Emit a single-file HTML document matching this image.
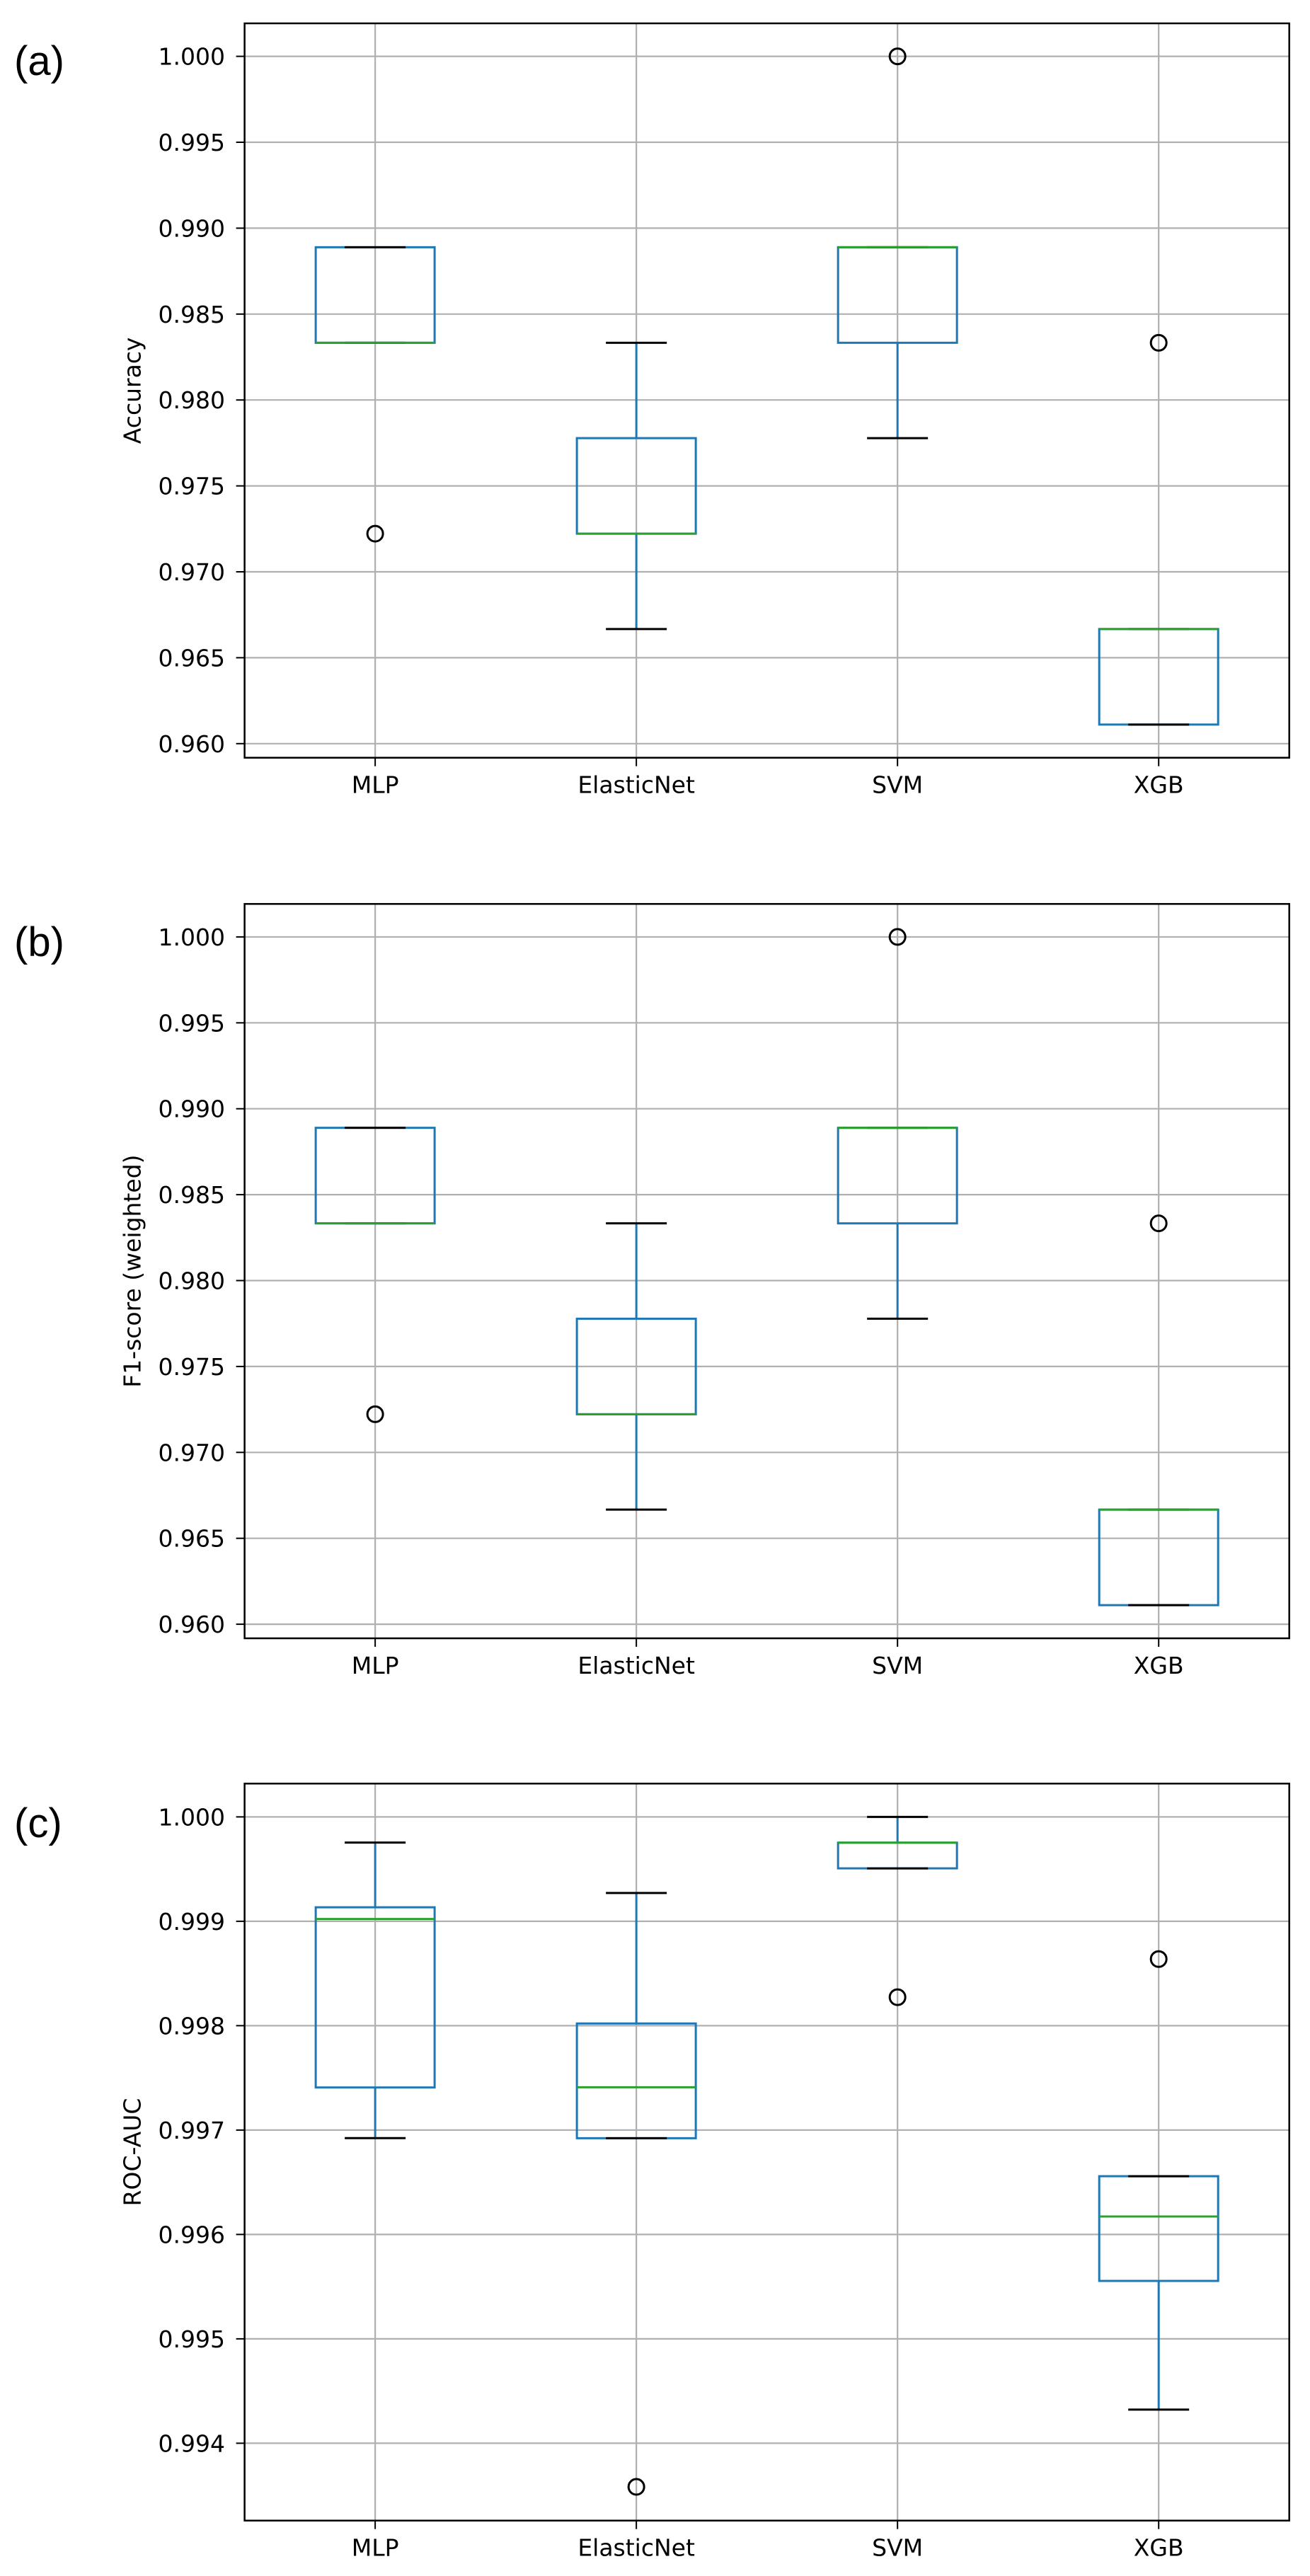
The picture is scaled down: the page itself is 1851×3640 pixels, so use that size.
<!DOCTYPE html>
<html><head><meta charset="utf-8">
<style>
html,body{margin:0;padding:0;background:#fff;}
svg{display:block;}
text{font-family:"DejaVu Sans","Liberation Sans",sans-serif;fill:#000;}
.plabel{font-family:"Liberation Sans",sans-serif;font-size:58px;}
</style></head>
<body>
<svg id="chart" width="1851" height="3640" viewBox="0 0 1851 3640" xmlns="http://www.w3.org/2000/svg"></svg>
<script>
const categories = ["MLP", "ElasticNet", "SVM", "XGB"];
// panel a: Accuracy [whislo, q1, median, q3, whishi]
const accStats = [
  [0.98333, 0.98333, 0.98333, 0.98889, 0.98889],
  [0.96667, 0.97222, 0.97222, 0.97778, 0.98333],
  [0.97778, 0.98333, 0.98889, 0.98889, 0.98889],
  [0.96111, 0.96111, 0.96667, 0.96667, 0.96667]
];
const accOutliers = [[0.97222], [], [1.0], [0.98333]];
const accTicks = ["0.960", "0.965", "0.970", "0.975", "0.980", "0.985", "0.990", "0.995", "1.000"];
// panel b: F1 weighted
const f1Stats = [
  [0.98333, 0.98333, 0.98333, 0.98889, 0.98889],
  [0.96667, 0.97222, 0.97222, 0.97778, 0.98333],
  [0.97778, 0.98333, 0.98889, 0.98889, 0.98889],
  [0.96111, 0.96111, 0.96667, 0.96667, 0.96667]
];
const f1Outliers = [[0.97222], [], [1.0], [0.98333]];
const f1Ticks = ["0.960", "0.965", "0.970", "0.975", "0.980", "0.985", "0.990", "0.995", "1.000"];
// panel c: ROC-AUC
const aucStats = [
  [0.996923, 0.997408, 0.999022, 0.999134, 0.999754],
  [0.996922, 0.996922, 0.997410, 0.998021, 0.999271],
  [0.999507, 0.999507, 0.999753, 0.999753, 1.000000],
  [0.994322, 0.995555, 0.996172, 0.996558, 0.996558]
];
const aucOutliers = [[], [0.993582], [0.998273], [0.998638]];
const aucTicks = ["0.994", "0.995", "0.996", "0.997", "0.998", "0.999", "1.000"];

const NS = "http://www.w3.org/2000/svg";
const svg = document.getElementById("chart");
function mk(tag, attrs, parent) {
  const e = document.createElementNS(NS, tag);
  for (const k in attrs) e.setAttribute(k, attrs[k]);
  (parent || svg).appendChild(e);
  return e;
}
const AX_L = 345.6, AX_R = 1821.7;
const xScale = i => AX_L + (i + 0.5) / 4 * (AX_R - AX_L);

const panels = [
  {key: "a", label: "(a)", ylabel: "Accuracy", stats: accStats, outl: accOutliers, ticks: accTicks,
   top: 33, bottom: 1070.7, ymin: 0.95918, ymax: 1.00192, plY: 106},
  {key: "b", label: "(b)", ylabel: "F1-score (weighted)", stats: f1Stats, outl: f1Outliers, ticks: f1Ticks,
   top: 1277.3, bottom: 2315, ymin: 0.95918, ymax: 1.00192, plY: 1351},
  {key: "c", label: "(c)", ylabel: "ROC-AUC", stats: aucStats, outl: aucOutliers, ticks: aucTicks,
   top: 2520.3, bottom: 3561.7, ymin: 0.993259, ymax: 1.000319, plY: 2596}
];

panels.forEach(p => {
  const g = mk("g", {});
  
  
  const yS = v => p.bottom - (v - p.ymin) / (p.ymax - p.ymin) * (p.bottom - p.top);

  const pl = mk("text", {x: 20, y: p.plY, "class": "plabel"}, g);
  pl.textContent = p.label;
  
  

  p.ticks.forEach(t => {
    const y = yS(parseFloat(t));
    const gl = mk("line", {x1: AX_L, x2: AX_R, y1: y, y2: y, stroke: "#b0b0b0", "stroke-width": 2.2}, g);
    
    
    const tk = mk("line", {x1: AX_L - 12, x2: AX_L, y1: y, y2: y, stroke: "#000", "stroke-width": 2}, g);
    
    
    const tl = mk("text", {x: 318, y: y + 12, "text-anchor": "end", "font-size": 33}, g);
    tl.textContent = t;
    
    
  });
  categories.forEach((c, i) => {
    const x = xScale(i);
    const gl = mk("line", {x1: x, x2: x, y1: p.top, y2: p.bottom, stroke: "#b0b0b0", "stroke-width": 2.2}, g);
    
    
    const tk = mk("line", {x1: x, x2: x, y1: p.bottom, y2: p.bottom + 12, stroke: "#000", "stroke-width": 2}, g);
    
    
    const tl = mk("text", {x: x, y: p.bottom + 50, "text-anchor": "middle", "font-size": 33}, g);
    tl.textContent = c;
    
    
  });

  p.stats.forEach((s, i) => {
    const x = xScale(i), hw = 84, cw = 43;
    const bg = mk("g", {}, g);
    
    
    const blue = "#1f77b4";
    mk("line", {x1: x, x2: x, y1: yS(s[0]), y2: yS(s[1]), stroke: blue, "stroke-width": 3}, bg);
    mk("line", {x1: x, x2: x, y1: yS(s[3]), y2: yS(s[4]), stroke: blue, "stroke-width": 3}, bg);
    mk("rect", {x: x - hw, y: yS(s[3]), width: 2 * hw, height: Math.max(0, yS(s[1]) - yS(s[3])),
      fill: "none", stroke: blue, "stroke-width": 3}, bg);
    mk("line", {x1: x - cw, x2: x + cw, y1: yS(s[0]), y2: yS(s[0]), stroke: "#000", "stroke-width": 3}, bg);
    mk("line", {x1: x - cw, x2: x + cw, y1: yS(s[4]), y2: yS(s[4]), stroke: "#000", "stroke-width": 3}, bg);
    mk("line", {x1: x - hw, x2: x + hw, y1: yS(s[2]), y2: yS(s[2]), stroke: "#2ca02c", "stroke-width": 3}, bg);
    p.outl[i].forEach(v => {
      const o = mk("circle", {cx: x, cy: yS(v), r: 11, fill: "none", stroke: "#000", "stroke-width": 3}, g);
      
      
    });
  });

  const fr = mk("rect", {x: AX_L, y: p.top, width: AX_R - AX_L, height: p.bottom - p.top,
    fill: "none", stroke: "#000", "stroke-width": 2.5}, g);
  
  

  const cy = (p.top + p.bottom) / 2;
  const yl = mk("text", {x: 189, y: cy, "text-anchor": "middle", "font-size": 33,
    transform: "rotate(-90 189 " + cy + ")", "dominant-baseline": "middle"}, g);
  yl.textContent = p.ylabel;
  
  
});
</script>
</body></html>
